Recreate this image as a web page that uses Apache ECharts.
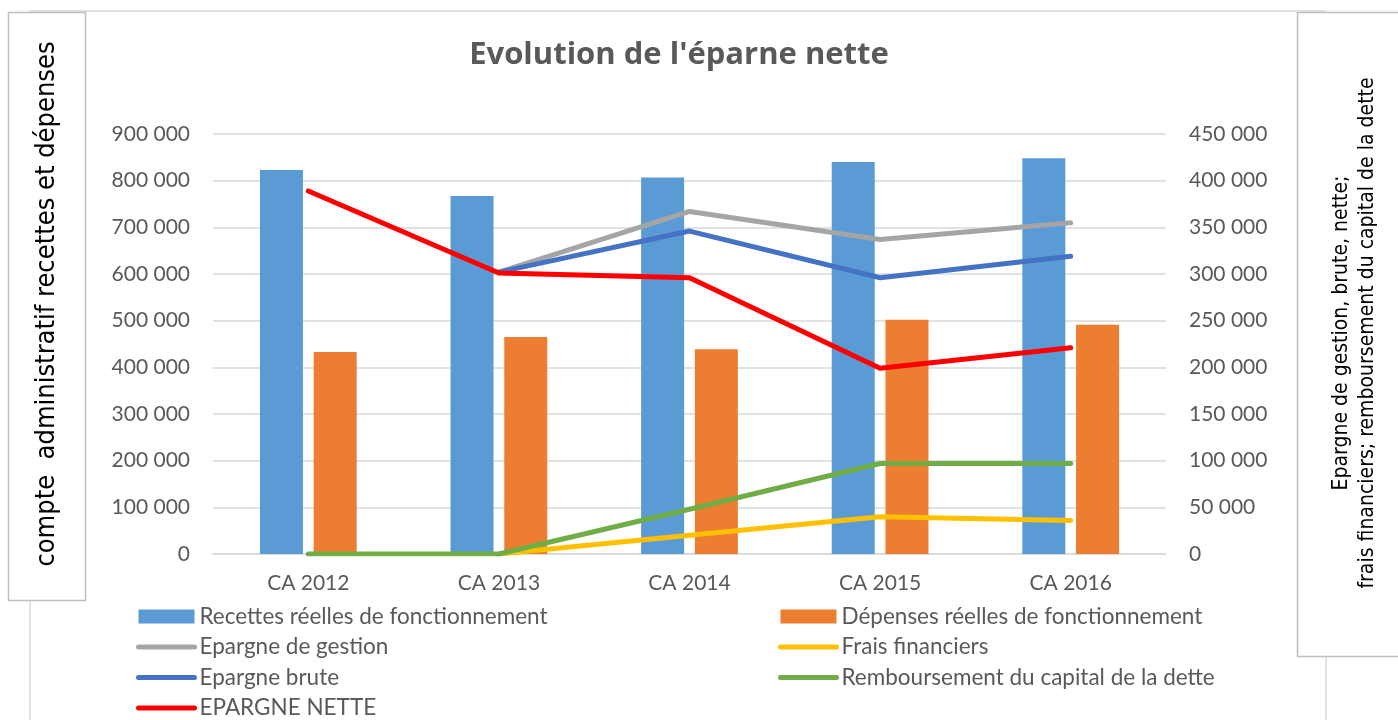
<!DOCTYPE html>
<html>
<head>
<meta charset="utf-8">
<script src="https://cdn.jsdelivr.net/npm/echarts@6/dist/echarts.min.js"></script>
<style>
  html, body { margin: 0; padding: 0; background: #fff; }
  #chart { width: 1398px; height: 720px; }
</style>
</head>
<body>
<div id="chart"></div>
<script>
// catégories et valeurs
const categories = ['CA 2012', 'CA 2013', 'CA 2014', 'CA 2015', 'CA 2016']
const recettes = [823000, 767000, 807000, 840000, 848000]
const depenses = [433000, 465000, 439000, 502000, 491000]
const epargneGestion = [null, 302000, 367000, 337000, 355000]
const fraisFinanciers = [null, 0, 20000, 40000, 36000]
const epargneBrute = [null, 302000, 346000, 296000, 319000]
const remboursement = [0, 0, 48000, 97000, 97000]
const epargneNette = [389000, 301000, 296000, 199000, 221000]

const FONT = 'Lato'
const NARROW = '"Liberation Sans Narrow", "DejaVu Sans Condensed", sans-serif'
const GREY_TEXT = '#595959'

// séparateur de milliers avec espace
const fmt = v => String(v).replace(/\B(?=(\d{3})+(?!\d))/g, ' ')

function lineSeries(name, data, color) {
  return {
    name,
    type: 'line',
    yAxisIndex: 1,
    data,
    symbol: 'none',
    lineStyle: { color, width: 5, cap: 'round', join: 'round' },
    itemStyle: { color },
  }
}

// entrée de légende pour une courbe : trait seul, sans pastille
const lineEntry = name => ({ name, itemStyle: { opacity: 0 } })

const legendBase = {
  orient: 'vertical',
  top: 605,
  height: 130,
  padding: 0,
  itemWidth: 56,
  itemHeight: 14,
  itemGap: 7.5,
  lineStyle: { width: 5, cap: 'round' },
  textStyle: { fontFamily: FONT, fontSize: 22.5, color: GREY_TEXT, lineHeight: 22 },
}

const myChart = echarts.init(document.querySelector('#chart'))
const option = {
  animation: false,
  title: {
    text: "Evolution de l'éparne nette",
    left: 674,
    textAlign: 'center',
    top: 35,
    textStyle: { fontFamily: '"Open Sans"', fontSize: 31, fontWeight: 'bold', color: GREY_TEXT },
  },
  grid: { left: 213, right: 232, top: 134, bottom: 166 },
  legend: [
    {
      ...legendBase,
      left: 136,
      data: [
        { name: 'Recettes réelles de fonctionnement', icon: 'rect' },
        lineEntry('Epargne de gestion'),
        lineEntry('Epargne brute'),
        lineEntry('EPARGNE NETTE'),
      ],
    },
    {
      ...legendBase,
      left: 778,
      data: [
        { name: 'Dépenses réelles de fonctionnement', icon: 'rect' },
        lineEntry('Frais financiers'),
        lineEntry('Remboursement du capital de la dette'),
      ],
    },
  ],
  xAxis: {
    type: 'category',
    data: categories,
    axisLine: { lineStyle: { color: '#D9D9D9', width: 1.5 } },
    axisTick: { show: false },
    axisLabel: { fontFamily: FONT, fontSize: 21, color: GREY_TEXT, margin: 19 },
  },
  yAxis: [
    {
      type: 'value',
      min: 0,
      max: 900000,
      interval: 100000,
      axisLine: { show: false },
      axisTick: { show: false },
      splitLine: { lineStyle: { color: '#D9D9D9', width: 1.5 } },
      axisLabel: { fontFamily: FONT, fontSize: 21, color: GREY_TEXT, margin: 23, formatter: fmt },
    },
    {
      type: 'value',
      min: 0,
      max: 450000,
      interval: 50000,
      axisLine: { show: false },
      axisTick: { show: false },
      splitLine: { show: false },
      axisLabel: { fontFamily: FONT, fontSize: 21, color: GREY_TEXT, margin: 23, formatter: fmt },
    },
  ],
  series: [
    {
      name: 'Recettes réelles de fonctionnement',
      type: 'bar',
      data: recettes,
      barWidth: 43,
      barGap: '25%',
      itemStyle: { color: '#5B9BD5' },
    },
    {
      name: 'Dépenses réelles de fonctionnement',
      type: 'bar',
      data: depenses,
      barWidth: 43,
      barGap: '25%',
      itemStyle: { color: '#ED7D31' },
    },
    lineSeries('Epargne de gestion', epargneGestion, '#A5A5A5'),
    lineSeries('Frais financiers', fraisFinanciers, '#FFC000'),
    lineSeries('Epargne brute', epargneBrute, '#4472C4'),
    lineSeries('Remboursement du capital de la dette', remboursement, '#70AD47'),
    lineSeries('EPARGNE NETTE', epargneNette, '#FF0000'),
  ],
  // cadres et titres d'axes
  graphic: [
    {
      type: 'rect',
      z: -10,
      shape: { x: 30, y: 11, width: 1296, height: 740 },
      style: { fill: 'none', stroke: '#D9D9D9', lineWidth: 1.5 },
    },
    {
      type: 'rect',
      z: 10,
      shape: { x: 8.5, y: 12.5, width: 77, height: 588 },
      style: { fill: '#fff', stroke: '#BFBFBF', lineWidth: 1.5 },
    },
    {
      type: 'text',
      z: 11,
      x: 47,
      y: 304,
      rotation: Math.PI / 2,
      style: {
        text: 'compte  administratif recettes et dépenses',
        fontFamily: NARROW,
        fontSize: 27,
        fill: '#000',
        align: 'center',
        verticalAlign: 'middle',
      },
    },
    {
      type: 'rect',
      z: 10,
      shape: { x: 1297.5, y: 12.5, width: 120, height: 644 },
      style: { fill: '#fff', stroke: '#BFBFBF', lineWidth: 1.5 },
    },
    {
      type: 'text',
      z: 11,
      x: 1355,
      y: 333,
      rotation: Math.PI / 2,
      style: {
        text: 'Epargne de gestion, brute, nette;\nfrais financiers; remboursement du capital de la dette',
        fontFamily: NARROW,
        fontSize: 21,
        lineHeight: 26,
        fill: '#000',
        align: 'center',
        verticalAlign: 'middle',
      },
    },
  ],
}
myChart.setOption(option)
</script>
</body>
</html>
